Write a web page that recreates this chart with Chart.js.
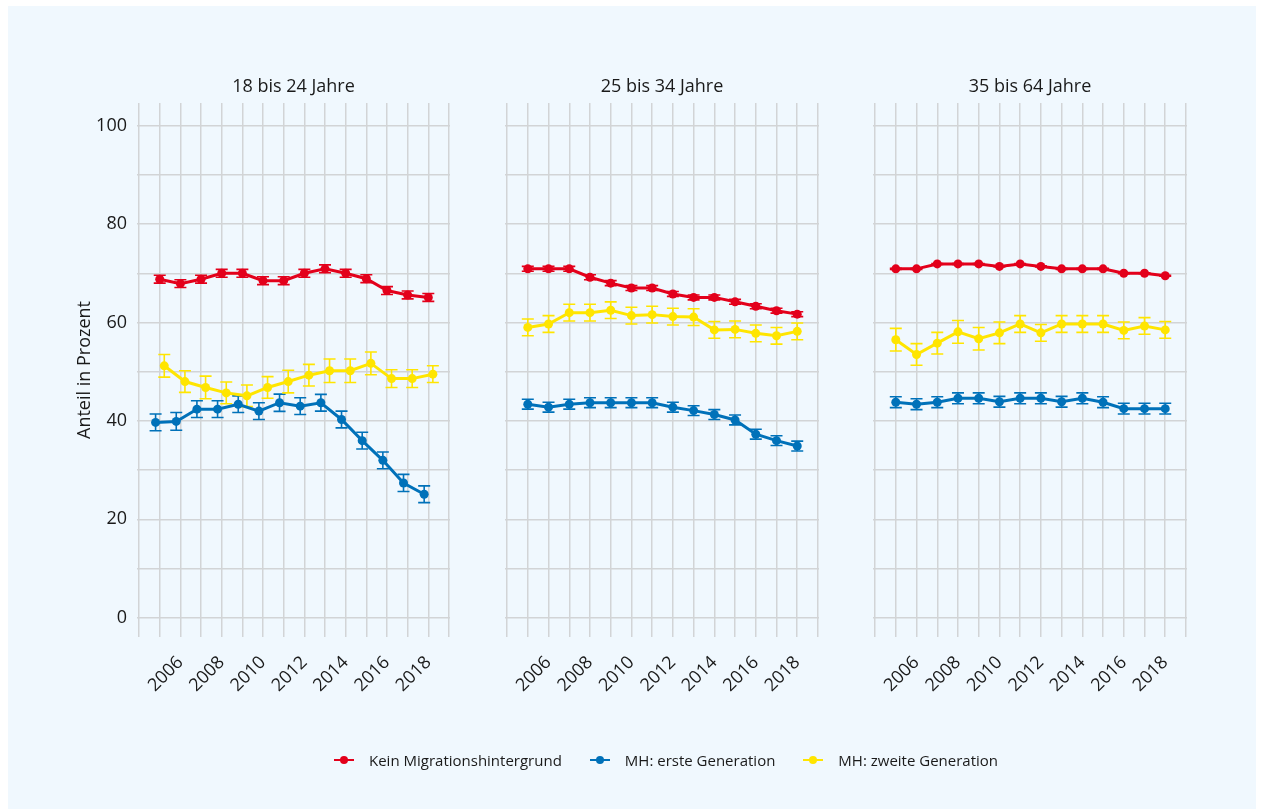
<!DOCTYPE html>
<html lang="de">
<head>
<meta charset="utf-8">
<title>Anteil in Prozent nach Altersgruppe</title>
<script src="https://cdn.jsdelivr.net/npm/chart.js@4.4.1/dist/chart.umd.min.js"></script>
<style>
  body { margin: 0; background: #ffffff; font-family: "Open Sans", sans-serif; }
  #wrap { position: relative; width: 1261px; height: 809px; overflow: hidden; }
  #bg { position: absolute; left: 8px; top: 6px; width: 1248px; height: 803px; background: #f0f8fe; }
  #wrap canvas { position: absolute; left: 0; top: 0; }
  #legend { position: absolute; left: 334px; top: 749px; height: 22px; display: flex; align-items: center; gap: 28px;
            font-size: 15px; color: #1a1a1a; }
  #legend .item { display: flex; align-items: center; white-space: nowrap; }
  #legend .key { position: relative; width: 20px; height: 2px; margin-right: 15px; }
  #legend .key::after { content: ""; position: absolute; left: 6px; top: -3px; width: 8px; height: 8px;
                        border-radius: 50%; background: inherit; }
</style>
</head>
<body>
<div id="wrap">
  <div id="bg"></div>
  <canvas id="p0" width="1261" height="809"></canvas>
  <canvas id="p1" width="1261" height="809"></canvas>
  <canvas id="p2" width="1261" height="809"></canvas>
  <div id="legend"></div>
</div>
<script>
const years = [2005, 2006, 2007, 2008, 2009, 2010, 2011, 2012, 2013, 2014, 2015, 2016, 2017, 2018];
const gridYears = [2004, 2005, 2006, 2007, 2008, 2009, 2010, 2011, 2012, 2013, 2014, 2015, 2016, 2017, 2018, 2019];
const yearLabels = [2006, 2008, 2010, 2012, 2014, 2016, 2018];
const gridValues = [0, 10, 20, 30, 40, 50, 60, 70, 80, 90, 100];
const valueLabels = [0, 20, 40, 60, 80, 100];

const panelTitles = ['18 bis 24 Jahre', '25 bis 34 Jahre', '35 bis 64 Jahre'];
const seriesLabels = ['Kein Migrationshintergrund', 'MH: erste Generation', 'MH: zweite Generation'];
const seriesColors = ['#e3001b', '#0071b9', '#ffe500'];

// 18 bis 24 Jahre
const kein1824 = [68.8, 67.9, 68.8, 70.0, 70.0, 68.5, 68.5, 70.0, 70.9, 70.0, 68.9, 66.5, 65.6, 65.1];
const kein1824Err = [0.8, 0.8, 0.8, 0.8, 0.8, 0.8, 0.8, 0.8, 0.8, 0.8, 0.8, 0.8, 0.8, 0.8];
const erste1824 = [39.7, 39.9, 42.4, 42.4, 43.4, 42.0, 43.7, 43.0, 43.7, 40.3, 36.0, 32.0, 27.4, 25.1];
const erste1824Err = [1.7, 1.8, 1.7, 1.7, 1.7, 1.7, 1.75, 1.7, 1.7, 1.7, 1.7, 1.7, 1.75, 1.7];
const zweite1824 = [51.2, 48.0, 46.8, 45.7, 45.1, 46.8, 48.0, 49.3, 50.2, 50.2, 51.7, 48.6, 48.6, 49.5];
const zweite1824Err = [2.3, 2.2, 2.3, 2.2, 2.2, 2.2, 2.3, 2.2, 2.4, 2.4, 2.3, 1.8, 1.8, 1.7];

// 25 bis 34 Jahre
const kein2534 = [70.9, 70.9, 70.9, 69.2, 68.0, 67.0, 67.0, 65.8, 65.1, 65.1, 64.2, 63.3, 62.4, 61.7];
const kein2534Err = [0.5, 0.5, 0.5, 0.5, 0.5, 0.5, 0.5, 0.5, 0.5, 0.5, 0.5, 0.5, 0.5, 0.5];
const erste2534 = [43.4, 42.8, 43.4, 43.7, 43.7, 43.7, 43.7, 42.8, 42.1, 41.3, 40.2, 37.3, 36.0, 34.9];
const erste2534Err = [1.0, 1.0, 1.0, 1.0, 1.0, 1.0, 1.0, 1.0, 1.0, 1.0, 1.0, 1.0, 1.0, 1.0];
const zweite2534 = [59.0, 59.7, 62.0, 62.0, 62.5, 61.4, 61.6, 61.2, 61.1, 58.5, 58.6, 57.8, 57.3, 58.2];
const zweite2534Err = [1.7, 1.7, 1.7, 1.7, 1.7, 1.7, 1.7, 1.7, 1.7, 1.7, 1.7, 1.7, 1.7, 1.7];

// 35 bis 64 Jahre
const kein3564 = [70.9, 70.9, 71.9, 71.9, 71.9, 71.4, 71.9, 71.4, 70.9, 70.9, 70.9, 70.0, 70.0, 69.5];
const kein3564Err = [0.1, 0.1, 0.1, 0.1, 0.1, 0.1, 0.1, 0.1, 0.1, 0.1, 0.1, 0.1, 0.1, 0.1];
const erste3564 = [43.8, 43.4, 43.8, 44.6, 44.6, 43.9, 44.6, 44.6, 43.9, 44.6, 43.8, 42.5, 42.5, 42.5];
const erste3564Err = [1.1, 1.1, 1.1, 1.1, 1.1, 1.1, 1.1, 1.1, 1.1, 1.1, 1.1, 1.1, 1.1, 1.1];
const zweite3564 = [56.5, 53.5, 55.8, 58.1, 56.7, 57.9, 59.7, 57.9, 59.7, 59.7, 59.7, 58.4, 59.3, 58.5];
const zweite3564Err = [2.3, 2.2, 2.2, 2.3, 2.3, 2.2, 1.7, 1.7, 1.7, 1.7, 1.7, 1.7, 1.7, 1.7];

// horizontal dodge (in years) per panel and series
const dodge = [[0, -0.2, 0.22], [0, 0, 0], [0, 0, 0]];

const panels = [
  { values: [kein1824, erste1824, zweite1824], errors: [kein1824Err, erste1824Err, zweite1824Err] },
  { values: [kein2534, erste2534, zweite2534], errors: [kein2534Err, erste2534Err, zweite2534Err] },
  { values: [kein3564, erste3564, zweite3564], errors: [kein3564Err, erste3564Err, zweite3564Err] },
];

// plot area edges of the three panels
const areas = [
  { left: 137, right: 450 },
  { left: 505, right: 819 },
  { left: 873, right: 1187 },
];
const areaTop = 103;
const areaBottom = 637;
const yAxisWidth = 65;
const xAxisHeight = 80;

const textColor = '#1a1a1a';
const gridColor = '#d2d4d6';
const font = { family: '"Open Sans", sans-serif', size: 18 };

// vertical error bars with caps, drawn below lines and points
const errorBars = {
  id: 'errorBars',
  beforeDatasetsDraw(chart) {
    const { ctx, scales: { x, y } } = chart;
    chart.data.datasets.forEach(ds => {
      ctx.save();
      ctx.strokeStyle = ds.borderColor;
      ctx.lineWidth = 1.6;
      ds.data.forEach((p, i) => {
        const px = x.getPixelForValue(p.x);
        const top = y.getPixelForValue(p.y + ds.err[i]);
        const bottom = y.getPixelForValue(p.y - ds.err[i]);
        ctx.beginPath();
        ctx.moveTo(px, top);
        ctx.lineTo(px, bottom);
        ctx.moveTo(px - 6, top);
        ctx.lineTo(px + 6, top);
        ctx.moveTo(px - 6, bottom);
        ctx.lineTo(px + 6, bottom);
        ctx.stroke();
      });
      ctx.restore();
    });
  }
};

// facet title centred over the plot area
const panelTitle = {
  id: 'panelTitle',
  afterDraw(chart, args, opts) {
    const { ctx, chartArea } = chart;
    ctx.save();
    ctx.font = `${font.size}px ${font.family}`;
    ctx.fillStyle = textColor;
    ctx.textAlign = 'center';
    ctx.textBaseline = 'alphabetic';
    ctx.fillText(opts.text, (chartArea.left + chartArea.right) / 2, chartArea.top - 11);
    ctx.restore();
  }
};

function makePanel(index) {
  const panel = panels[index];
  const area = areas[index];
  const first = index === 0;

  const datasets = seriesLabels.map((label, s) => ({
    label,
    data: years.map((yr, i) => ({ x: yr + dodge[index][s], y: panel.values[s][i] })),
    err: panel.errors[s],
    borderColor: seriesColors[s],
    backgroundColor: seriesColors[s],
    borderWidth: 3,
    pointRadius: 4.5,
    pointBorderWidth: 0,
    pointBackgroundColor: seriesColors[s],
    tension: 0,
    fill: false,
  }));

  return new Chart(document.getElementById('p' + index), {
    type: 'line',
    data: { datasets },
    options: {
      responsive: false,
      animation: false,
      events: [],
      layout: {
        padding: {
          left: area.left - (first ? yAxisWidth : 0),
          right: 1261 - area.right,
          top: areaTop,
          bottom: 809 - areaBottom - xAxisHeight,
        },
      },
      plugins: {
        legend: { display: false },
        tooltip: { enabled: false },
        panelTitle: { text: panelTitles[index] },
      },
      scales: {
        x: {
          type: 'linear',
          min: 2003.9,
          max: 2019.05,
          afterBuildTicks: scale => { scale.ticks = gridYears.map(v => ({ value: v })); },
          afterFit: scale => { scale.height = xAxisHeight; },
          grid: { color: gridColor, lineWidth: 1.5, drawTicks: false },
          border: { display: false },
          ticks: {
            autoSkip: false,
            minRotation: 45,
            maxRotation: 45,
            padding: 15,
            color: textColor,
            font,
            callback: v => (yearLabels.includes(v) ? String(v) : ''),
          },
        },
        y: {
          min: -3.9,
          max: 104.6,
          afterBuildTicks: scale => { scale.ticks = gridValues.map(v => ({ value: v })); },
          afterFit: scale => { scale.width = first ? yAxisWidth : 0; },
          grid: { color: gridColor, lineWidth: 1.5, drawTicks: false },
          border: { display: false },
          ticks: {
            display: first,
            padding: 10,
            color: textColor,
            font,
            callback: v => (valueLabels.includes(v) ? String(v) : ''),
          },
          title: {
            display: first,
            text: 'Anteil in Prozent',
            color: textColor,
            font,
            padding: 2,
          },
        },
      },
    },
    plugins: [errorBars, panelTitle],
  });
}

panels.forEach((p, i) => makePanel(i));

// legend below the panels
const legend = document.getElementById('legend');
seriesLabels.forEach((label, s) => {
  const item = document.createElement('div');
  item.className = 'item';
  const key = document.createElement('span');
  key.className = 'key';
  key.style.background = seriesColors[s];
  item.appendChild(key);
  item.appendChild(document.createTextNode(label));
  legend.appendChild(item);
});
</script>
</body>
</html>
